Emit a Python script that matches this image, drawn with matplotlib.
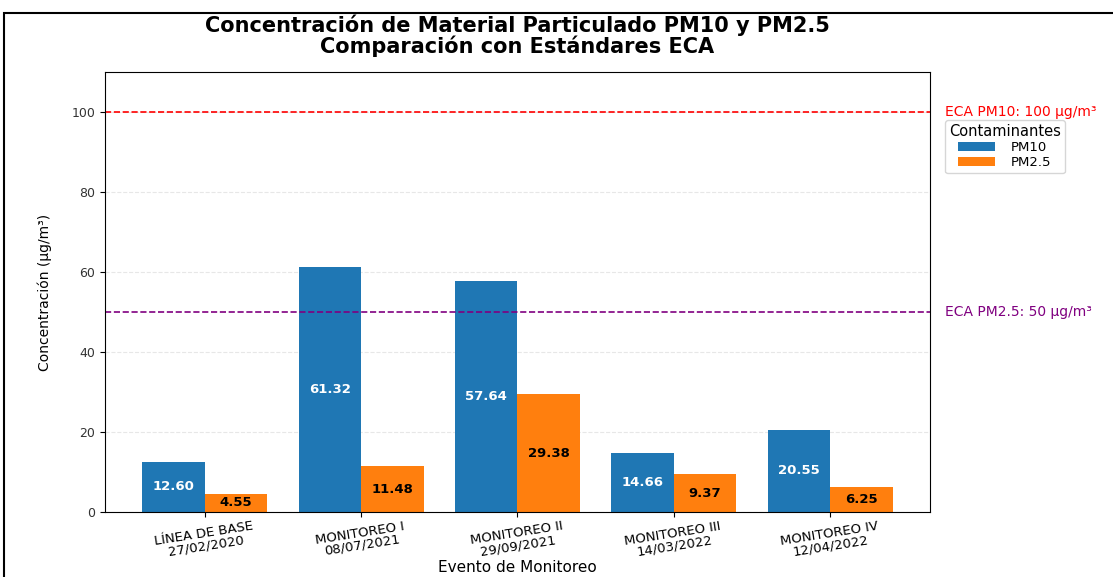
import matplotlib.pyplot as plt
import numpy as np
from matplotlib.patches import Rectangle
from matplotlib.transforms import blended_transform_factory

# data
eventos = ['LÍNEA DE BASE\n27/02/2020', 'MONITOREO I\n08/07/2021', 'MONITOREO II\n29/09/2021',
           'MONITOREO III\n14/03/2022', 'MONITOREO IV\n12/04/2022']
pm10 = [12.60, 61.32, 57.64, 14.66, 20.55]
pm25 = [4.55, 11.48, 29.38, 9.37, 6.25]
eca_pm10 = 100
eca_pm25 = 50

fig = plt.figure(figsize=(11.13, 5.77), dpi=100)
ax = fig.add_axes([0.0943, 0.1127, 0.7413, 0.7625])

# black frame round the figure (cropped on right and bottom in the reference)
fig.patches.append(Rectangle((0.004, -0.1), 1.2, 1.1 - 0.023, transform=fig.transFigure,
                             fill=False, edgecolor='black', linewidth=1.5))

x = np.arange(len(eventos))
w = 0.4
b1 = ax.bar(x - w / 2, pm10, w, color='#1f77b4', label='PM10')
b2 = ax.bar(x + w / 2, pm25, w, color='#ff7f0e', label='PM2.5')

for rect, v in zip(b1, pm10):
    ax.text(rect.get_x() + rect.get_width() / 2, v / 2, f'{v:.2f}', ha='center', va='center',
            color='white', fontweight='bold', fontsize=9.5)
for rect, v in zip(b2, pm25):
    ax.text(rect.get_x() + rect.get_width() / 2, v / 2, f'{v:.2f}', ha='center', va='center',
            color='black', fontweight='bold', fontsize=9.5)

ax.axhline(eca_pm10, color='red', linestyle='--', linewidth=1.2)
ax.axhline(eca_pm25, color='purple', linestyle='--', linewidth=1.2)
tr = blended_transform_factory(ax.transAxes, ax.transData)
ax.text(1.018, eca_pm10, 'ECA PM10: 100 µg/m³', color='red', fontsize=10, va='center',
        transform=tr, clip_on=False)
ax.text(1.018, eca_pm25, 'ECA PM2.5: 50 µg/m³', color='purple', fontsize=10, va='center',
        transform=tr, clip_on=False)

ax.set_ylim(0, 110)
ax.set_xticks(x)
ax.set_xticklabels(eventos, rotation=9, ha='center', fontsize=9.5, linespacing=0.95)
ax.tick_params(axis='x', pad=2)
ax.tick_params(axis='y', labelsize=9, labelcolor='#333333')
ax.yaxis.grid(True, linestyle='--', alpha=0.3)
ax.set_axisbelow(True)

ax.set_xlabel('Evento de Monitoreo', fontsize=11)
ax.xaxis.set_label_coords(0.5, -0.11)
ax.set_ylabel('Concentración (µg/m³)', fontsize=10, labelpad=14)
ax.set_title('Concentración de Material Particulado PM10 y PM2.5\nComparación con Estándares ECA',
             fontsize=15, fontweight='bold', pad=14, linespacing=0.95)

ax.legend(title='Contaminantes', loc='upper left', bbox_to_anchor=(1.01, 0.905),
          fontsize=9.5, title_fontsize=10.5, labelspacing=0.15, handlelength=2.8,
          borderpad=0.3, handletextpad=1.2)

fig.savefig('out.png', dpi=100)
